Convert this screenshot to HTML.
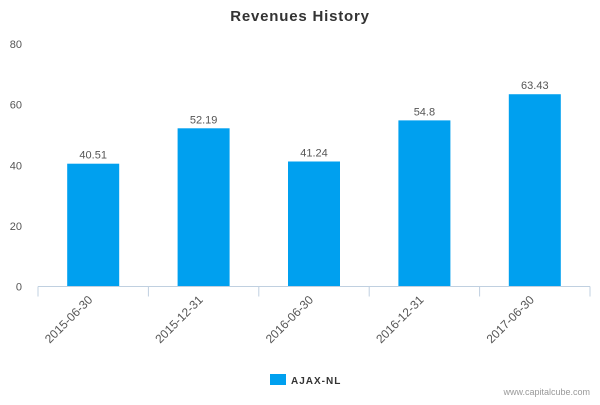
<!DOCTYPE html>
<html><head><meta charset="utf-8"><style>
body{margin:0;background:#fff;font-family:"Liberation Sans",sans-serif;}
svg text{font-family:"Liberation Sans",sans-serif;}
</style></head><body>
<svg width="600" height="400">
<text x="300" y="21" text-anchor="middle" font-size="15" font-weight="bold" letter-spacing="0.8" fill="#333">Revenues History</text>
<g id="yaxis"></g><g id="bars"></g><g id="xaxis"></g>
<g>
<rect x="270" y="374" width="16" height="11" fill="#00a0ef"></rect>
<text x="291" y="384" font-size="10" font-weight="bold" letter-spacing="1" fill="#333">AJAX-NL</text>
</g>
<text x="590" y="395" text-anchor="end" font-size="9" fill="#999">www.capitalcube.com</text>
</svg>
<script>
const categories=["2015-06-30","2015-12-31","2016-06-30","2016-12-31","2017-06-30"];
const values=[40.51,52.19,41.24,54.8,63.43];
const valueLabels=["40.51","52.19","41.24","54.8","63.43"];
const yTicks=[0,20,40,60,80];
const NS="http://www.w3.org/2000/svg";
const y0=286.5,yTop=44,x0=38,step=110.4;
const yS=v=>y0-(v/80)*(y0-yTop);
const xS=i=>x0+step*i;
function mk(tag,attrs,parent){const e=document.createElementNS(NS,tag);for(const k in attrs)e.setAttribute(k,attrs[k]);parent.appendChild(e);return e;}
const ya=document.getElementById('yaxis'),ba=document.getElementById('bars'),xa=document.getElementById('xaxis');
yTicks.forEach(t=>{const e=mk('text',{x:22,y:yS(t)+4,'text-anchor':'end','font-size':11,fill:'#555'},ya);e.textContent=t;

});
values.forEach((v,i)=>{const cx=xS(i)+step/2;
const r=mk('rect',{x:cx-26,y:yS(v),width:52,height:y0-yS(v),fill:'#00a0ef'},ba);


const t=mk('text',{x:cx,y:yS(v)-5,'text-anchor':'middle','font-size':11,fill:'#555'},ba);t.textContent=valueLabels[i];

});
const ax=mk('line',{x1:x0,y1:y0,x2:590,y2:y0,stroke:'#c0d0e0'},xa);


for(let i=0;i<=5;i++){mk('line',{x1:xS(i),y1:y0,x2:xS(i),y2:y0+10,stroke:'#c0d0e0'},xa);}
categories.forEach((c,i)=>{const cx=xS(i)+step/2;
const t=mk('text',{x:cx,y:y0+14,'text-anchor':'end','font-size':12,fill:'#555',transform:`rotate(-45 ${cx} ${y0+14})`},xa);t.textContent=c;

});
</script>
</body></html>
